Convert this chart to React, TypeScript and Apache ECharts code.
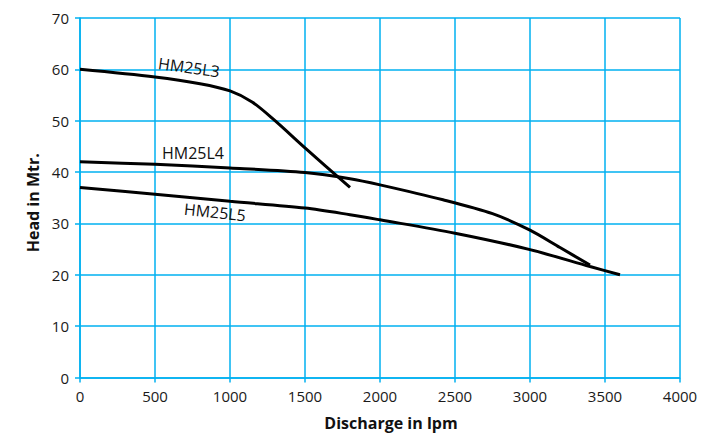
import React, { useEffect, useRef } from "react";
import * as echarts from "echarts";

const xTicks = [0, 500, 1000, 1500, 2000, 2500, 3000, 3500, 4000];
const yTicks = [0, 10, 20, 30, 40, 50, 60, 70];

const hm25l3: [number, number][] = [
  [0, 60], [500, 58.5], [800, 57.2], [1000, 55.8], [1150, 53.6], [1300, 50.0],
  [1500, 44.7], [1800, 37.0],
];
const hm25l4: [number, number][] = [
  [0, 42], [500, 41.5], [1000, 40.8], [1500, 39.9], [1800, 38.7], [2000, 37.5], [2420, 34.6],
  [2750, 31.9], [3000, 28.7], [3200, 25.3], [3400, 21.9],
];
const hm25l5: [number, number][] = [
  [0, 37], [500, 35.7], [1000, 34.3], [1500, 33.0], [1800, 31.7], [2000, 30.7], [2500, 28.1],
  [3000, 24.9], [3400, 21.6], [3600, 20.0],
];
const seriesNames = ["HM25L3", "HM25L4", "HM25L5"];
const labelCoords: [number, number][] = [[727, 60.4], [753, 43.8], [900, 32.2]];
const labelRotations = [-8, 0, -6];

const BLUE = "#00B0F0";
const FONT = "Open Sans";

export default function App() {
  const ref = useRef<HTMLDivElement>(null);
  useEffect(() => {
    if (!ref.current) return;
    const chart = echarts.init(ref.current, null, { renderer: "svg" });
    const datas = [hm25l3, hm25l4, hm25l5];
    chart.setOption({
      animation: false,
      grid: { left: 80, right: 47, top: 18, bottom: 58.5 },
      xAxis: {
        type: "value",
        min: 0,
        max: 4000,
        interval: 500,
        name: "Discharge in lpm",
        nameLocation: "middle",
        nameGap: 37,
        nameTextStyle: { fontFamily: FONT, fontSize: 16, fontWeight: "bold", color: "#111", padding: [0, 0, 0, 22] },
        axisLine: { show: true, lineStyle: { color: BLUE, width: 1.5 } },
        axisTick: { show: true, length: 5, lineStyle: { color: BLUE, width: 1.5 } },
        axisLabel: { fontFamily: FONT, fontSize: 15, color: "#1a1a1a", margin: 11, formatter: (v: number) => (xTicks.includes(v) ? String(v) : "") },
        splitLine: { show: true, lineStyle: { color: BLUE, width: 1.5 } },
      },
      yAxis: {
        type: "value",
        min: 0,
        max: 70,
        interval: 10,
        name: "Head in Mtr.",
        nameLocation: "middle",
        nameGap: 38,
        nameTextStyle: { fontFamily: FONT, fontSize: 16, fontWeight: "bold", color: "#111", padding: [0, 10, 0, 0] },
        axisLine: { show: true, lineStyle: { color: BLUE, width: 1.5 } },
        axisTick: { show: true, length: 5, lineStyle: { color: BLUE, width: 1.5 } },
        axisLabel: { fontFamily: FONT, fontSize: 15, color: "#1a1a1a", margin: 11, formatter: (v: number) => (yTicks.includes(v) ? String(v) : "") },
        splitLine: { show: true, lineStyle: { color: BLUE, width: 1.5 } },
      },
      series: datas.map((d, i) => ({
        type: "line",
        name: seriesNames[i],
        data: d,
        smooth: 0.3,
        showSymbol: false,
        symbol: "none",
        lineStyle: { color: "#000", width: 3 },
        markPoint: {
          symbol: "circle",
          symbolSize: 0,
          data: [{ coord: labelCoords[i], value: seriesNames[i] }],
          label: {
            show: true,
            position: "inside",
            formatter: seriesNames[i],
            rotate: labelRotations[i],
            fontFamily: FONT,
            fontSize: 16,
            color: "#111",
          },
        },
      })),
    });
    return () => chart.dispose();
  }, []);
  return <div ref={ref} style={{ width: 727, height: 436, position: "absolute", left: 0, top: 0 }} />;
}
